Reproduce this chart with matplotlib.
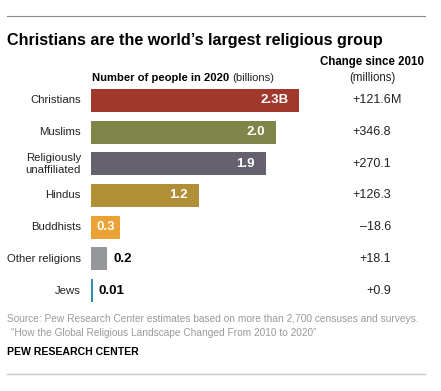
import matplotlib.pyplot as plt
from matplotlib.transforms import blended_transform_factory
from matplotlib.lines import Line2D

W, H = 441, 391

groups = ["Christians", "Muslims", "Religiously\nunaffiliated", "Hindus",
          "Buddhists", "Other religions", "Jews"]
population = [2.30, 2.04, 1.93, 1.19, 0.32, 0.18, 0.018]
pop_labels = ["2.3B", "2.0", "1.9", "1.2", "0.3", "0.2", "0.01"]
change = ["+121.6", "+346.8", "+270.1", "+126.3", "\u201318.6", "+18.1", "+0.9"]
colors = ["#a0392b", "#7f8549", "#66616f", "#b08f37", "#eba133", "#96979a", "#2b8fb0"]
label_inside = [True, True, True, True, True, False, False]

plt.rcParams['font.family'] = ['Liberation Sans', 'DejaVu Sans']

fig = plt.figure(figsize=(W / 100, H / 100), dpi=100)

def fx(px):
    return px / W

def fy(py):
    return 1 - py / H

# axes for the bars
pitch = 31.67
top = 100.5 - pitch / 2
bottom = 290.5 + pitch / 2
ax = fig.add_axes([fx(91), fy(bottom), fx(300), (bottom - top) / H])
ypos = list(range(len(groups)))
ax.barh(ypos, population, height=0.73, color=colors)
ax.set_xlim(0, 300 / 90.5)
ax.set_ylim(len(groups) - 0.5, -0.5)
ax.axis("off")

trans = blended_transform_factory(fig.transFigure, ax.transData)
for i, g in enumerate(groups):
    fig.text(fx(81), i, g, transform=trans, ha="right", va="center",
             fontsize=8.2, color="#222222", linespacing=1.2)
    if label_inside[i]:
        if i == 4:
            ax.text(population[i] / 2, i, pop_labels[i], ha="center", va="center",
                    color="white", fontsize=9.5, fontweight="bold")
        else:
            ax.text(population[i] - 0.12, i, pop_labels[i], ha="right", va="center",
                    color="white", fontsize=9.5, fontweight="bold")
    else:
        ax.text(population[i] + 0.07, i, pop_labels[i], ha="left", va="center",
                color="black", fontsize=9.5, fontweight="bold")
    fig.text(fx(391), i, change[i], transform=trans, ha="right", va="center",
             fontsize=9, color="#222222")
fig.text(fx(391), 0, "M", transform=trans, ha="left", va="center",
         fontsize=9, color="#222222")

# rules
fig.add_artist(Line2D([fx(7), fx(425)], [fy(16), fy(16)], color="#8a8a8a", lw=0.8))
fig.add_artist(Line2D([fx(7), fx(425)], [fy(374), fy(374)], color="#c8c8c8", lw=1.0))

fig.text(fx(7), fy(40), "Christians are the world\u2019s largest religious group",
         fontsize=11.6, fontweight="bold", ha="left", va="center", color="black")
fig.text(fx(372), fy(62), "Change since 2010", fontsize=8.3, fontweight="bold",
         ha="center", va="center")
fig.text(fx(372), fy(78), "(millions)", fontsize=8.3, ha="center", va="center",
         color="#222222")
t1 = fig.text(fx(92), fy(78), "Number of people in 2020 ", fontsize=8.1,
              fontweight="bold", ha="left", va="center")
fig.canvas.draw()
bb = t1.get_window_extent()
fig.text(bb.x1 / W, fy(78), "(billions)", fontsize=8.1, ha="left", va="center",
         color="#222222")

fig.text(fx(7), fy(319), "Source: Pew Research Center estimates based on more than 2,700 censuses and surveys.",
         fontsize=7.3, color="#9a9a9a", ha="left", va="center")
fig.text(fx(11), fy(333), "\u201cHow the Global Religious Landscape Changed From 2010 to 2020\u201d",
         fontsize=7.3, color="#9a9a9a", ha="left", va="center")
fig.text(fx(7), fy(352), "PEW RESEARCH CENTER", fontsize=7.6, fontweight="bold",
         ha="left", va="center", color="black")

fig.savefig("out.png", dpi=100)
